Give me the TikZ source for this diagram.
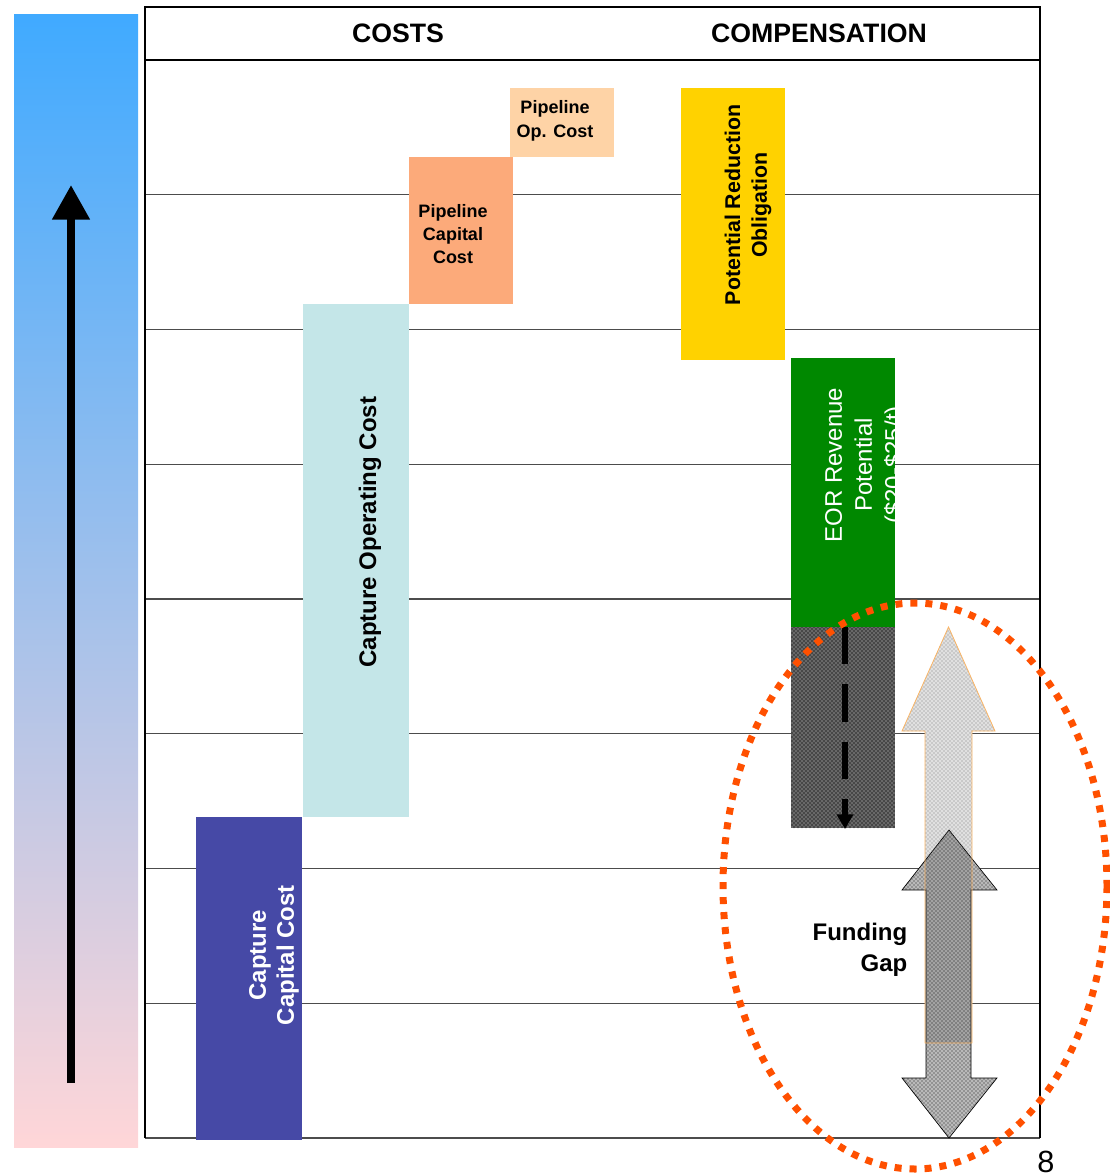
\documentclass[tikz,border=0pt]{standalone}
\usepackage{fontspec}
\setmainfont{Liberation Sans}
\usetikzlibrary{arrows.meta,patterns}

\definecolor{barTop}{RGB}{64,170,255}
\definecolor{barMid}{RGB}{196,194,238}
\definecolor{barBottom}{RGB}{255,214,216}
\definecolor{capCapital}{RGB}{70,73,166}
\definecolor{capOperating}{RGB}{196,230,232}
\definecolor{pipeCapital}{RGB}{252,170,122}
\definecolor{pipeOp}{RGB}{254,211,166}
\definecolor{reduction}{RGB}{255,210,0}
\definecolor{eorGreen}{RGB}{0,136,0}
\definecolor{gapOrange}{RGB}{255,80,0}
\definecolor{arrowEdge}{RGB}{250,180,100}

\begin{document}
\begin{tikzpicture}[x=0.75pt, y=-0.75pt,
    gridline/.style={draw=black!70, line width=0.9pt},
    frameline/.style={draw=black, line width=1.1pt},
    header/.style={font=\bfseries\fontsize{20}{24}\selectfont},
    boxlabel/.style={font=\bfseries\fontsize{18}{21}\selectfont, align=center},
    smalllabel/.style={font=\bfseries\fontsize{13.5}{17.5}\selectfont, align=center}]
    \useasboundingbox (0,0) rectangle (1110,1175);

    % Define coordinates
    \coordinate (axisbot) at (71,1083);
    \coordinate (axistop) at (71,185);
    \coordinate (eortop) at (845,627);
    \coordinate (eorbot) at (845,829);

    % Shaded bar with arrow
    \shade[top color=barTop, middle color=barMid, bottom color=barBottom]
        (14,14) rectangle (138,1147);
    \draw[line width=6pt, -{Triangle[length=26pt,width=27pt]}] (axisbot) -- (axistop);

    % Draw grid
    \foreach \i in {1,...,8} {
        \draw[gridline] (145,{60+\i*134.75}) -- (1040,{60+\i*134.75});
    }
    \draw[frameline] (145,1138) -- (145,7) -- (1040,7) -- (1040,1138);
    \draw[frameline] (145,60) -- (1040,60);
    \node[header] (costs) at (398,33) {COSTS};
    \node[header] (comp) at (819,33) {COMPENSATION};

    % Draw costs
    \fill[capCapital] (196,817) rectangle (302,1140);
    \node[boxlabel, text=white, rotate=90] (capcap) at (274,955) {Capture\\Capital Cost};
    \fill[capOperating] (303,304) rectangle (409,817);
    \node[boxlabel, rotate=90] (capop) at (370,532) {Capture Operating Cost};
    \fill[pipeCapital] (409,157) rectangle (513,304);
    \node[smalllabel] (pipecap) at (453,234) {Pipeline\\Capital\\Cost};
    \fill[pipeOp] (510,88) rectangle (614,157);
    \node[smalllabel] (pipeop) at (555,121) {Pipeline\\Op. Cost};

    % Draw compensation
    \fill[reduction] (681,88) rectangle (785,360);
    \node[font=\bfseries\fontsize{16}{20}\selectfont, align=center, rotate=90] (oblig) at (748,205)
        {Potential Reduction\\Obligation};
    \fill[eorGreen] (791,358) rectangle (895,627);
    \begin{scope}
        \clip (791,358) rectangle (895,627);
        \node[font=\fontsize{18}{22.5}\selectfont, text=white, align=center, rotate=90] (eor) at (866,465)
            {EOR Revenue\\Potential\\(\$20-\$25/t)};
    \end{scope}
    \fill[black!72] (791,627) rectangle (895,828);
    \fill[pattern=crosshatch dots, pattern color=white!85!black] (791,627) rectangle (895,828);
    \draw[line width=5pt, dash pattern=on 28pt off 15pt, -{Triangle[length=11pt,width=12pt]}] (eortop) -- (eorbot);

    % Funding gap arrows
    \fill[white] (948.5,627) -- (995,731) -- (972,731) -- (972,1043) -- (925,1043) -- (925,731) -- (902,731) -- cycle;
    \fill[gray!55] (949,830) -- (997,890) -- (971,890) -- (971,1078) -- (997,1078) -- (949,1138)
        -- (902,1078) -- (926,1078) -- (926,890) -- (902,890) -- cycle;
    \draw[black, line width=0.5pt, pattern=crosshatch dots, pattern color=black!90]
        (949,830) -- (997,890) -- (971,890) -- (971,1078) -- (997,1078) -- (949,1138)
        -- (902,1078) -- (926,1078) -- (926,890) -- (902,890) -- cycle;
    \fill[black, fill opacity=0.12]
        (948.5,627) -- (995,731) -- (972,731) -- (972,1043) -- (925,1043) -- (925,731) -- (902,731) -- cycle;
    \draw[arrowEdge, line width=0.6pt, pattern=crosshatch dots, pattern color=black!50]
        (948.5,627) -- (995,731) -- (972,731) -- (972,1043) -- (925,1043) -- (925,731) -- (902,731) -- cycle;
    \node[font=\bfseries\fontsize{18}{23}\selectfont, align=right, anchor=east] (gap) at (912,950) {Funding\\Gap};

    % Dotted ellipse
    \draw[gapOrange, line width=5.25pt, dash pattern=on 5.25pt off 6pt] (915,886) ellipse [x radius=192, y radius=283];

    \node[font=\fontsize{23}{26}\selectfont, anchor=base, inner sep=0pt] (page) at (1046,1172) {8};
\end{tikzpicture}
\end{document}
